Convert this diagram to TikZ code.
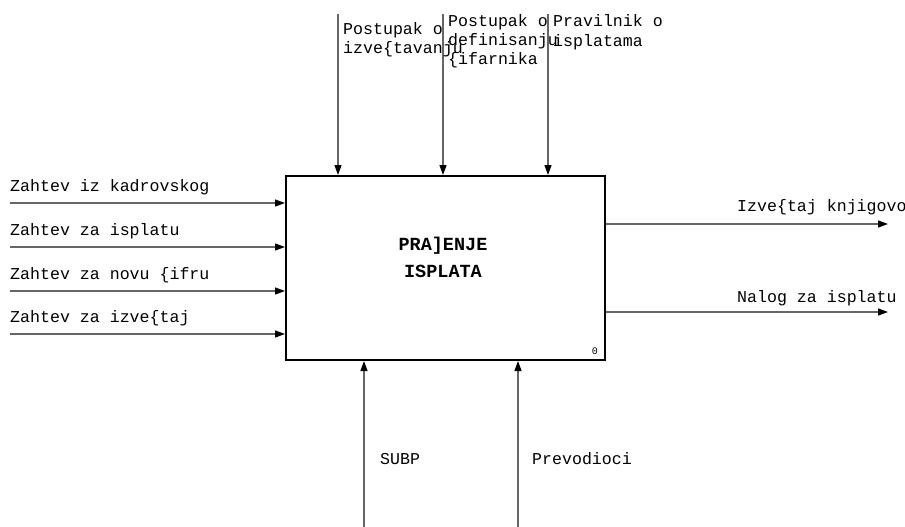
\documentclass[tikz,border=0pt]{standalone}
\usepackage{fontspec}
\setmainfont{Liberation Mono}
\usetikzlibrary{arrows.meta}

\tikzset{
  flow/.style={draw=black!60,line width=1.2pt,-{Triangle[length=10pt,width=7pt,color=black]}},
  lbl/.style={inner sep=0pt,anchor=base west,font=\fontsize{16.6}{19.5}\selectfont,align=left},
}

\begin{document}
\begin{tikzpicture}[x=1pt,y=-1pt]
\useasboundingbox (0,0) rectangle (905,527);
\clip (0,0) rectangle (905,527);
% activity box
\node[draw,line width=2pt,minimum width=319pt,minimum height=184pt,inner sep=0pt] (box) at (445.5,268) {};
\node[font=\bfseries\fontsize{18.5}{27}\selectfont,align=center] (name) at (443,257) {PRA]ENJE\\ISPLATA};
\node[inner sep=0pt,font=\fontsize{10}{10}\selectfont,anchor=base east] (num) at (598,354) {0};
% inputs
\foreach \y/\t [count=\i] in {203/Zahtev iz kadrovskog,247/Zahtev za isplatu,291/Zahtev za novu \{ifru,334/Zahtev za izve\{taj}{
  \coordinate (in\i) at (10,\y);
  \draw[flow] (in\i) -- (box.west |- in\i);
  \node[lbl] (inlbl\i) at (10,\y-12) {\t};
}
% controls
\coordinate (c1) at (338,14);
\coordinate (c2) at (443,14);
\coordinate (c3) at (548,14);
\foreach \i in {1,2,3} \draw[flow] (c\i) -- (c\i |- box.north);
% (base = last line)
\node[lbl] (ctl1) at (343,54) {Postupak o\\izve\{tavanju};
\node[lbl] (ctl2) at (448,65) {Postupak o\\definisanju\\\{ifarnika};
\node[lbl] (ctl3) at (553,46.5) {Pravilnik o\\isplatama};
% outputs
\coordinate (o1) at (888,224);
\coordinate (o2) at (888,312);
\draw[flow] (box.east |- o1) -- (o1);
\draw[flow] (box.east |- o2) -- (o2);
\node[lbl] (out1) at (737,211) {Izve\{taj knjigovo};
\node[lbl] (out2) at (737,302) {Nalog za isplatu};
% mechanisms
\coordinate (m1) at (364,527);
\coordinate (m2) at (518,527);
\draw[flow] (m1) -- (m1 |- box.south);
\draw[flow] (m2) -- (m2 |- box.south);
\node[lbl] (mech1) at (380,464) {SUBP};
\node[lbl] (mech2) at (532,464) {Prevodioci};
\end{tikzpicture}
\end{document}
